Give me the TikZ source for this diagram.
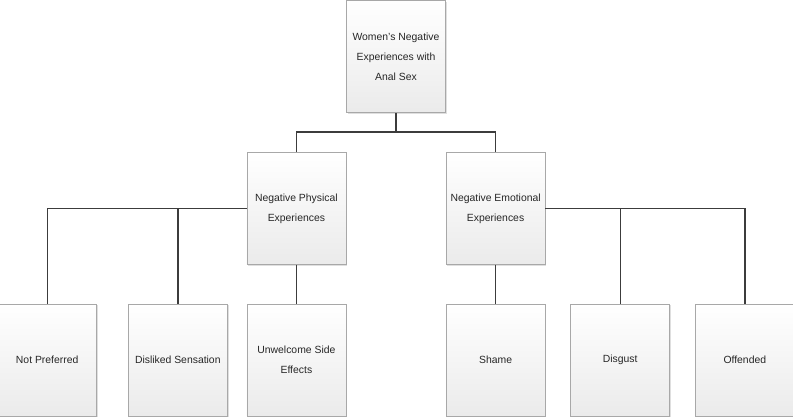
\documentclass[tikz,border=0pt]{standalone}
\usepackage{fontspec}
\setmainfont{Liberation Sans}
\usepackage{tikz}
\usetikzlibrary{positioning, shadows}
\definecolor{linkgray}{HTML}{3C3C3C}
\definecolor{boxedge}{HTML}{A8A8A8}

\begin{document}
\begin{tikzpicture}[
    x=1pt, y=-1pt,
    node distance=39pt,
    box/.style={draw=boxedge, line width=0.6pt, minimum width=99pt, minimum height=112pt, align=center,
        font=\fontsize{10.4}{20}\selectfont, text=black!85, top color=white, bottom color=gray!16,
        drop shadow={opacity=0.25, shadow xshift=1.2pt, shadow yshift=-1.2pt}},
    link/.style={draw=linkgray, line width=1.4pt}
]
\useasboundingbox (0,0) rectangle (793,419);

\node[box, anchor=north] (root) at (396,0.5) {Women's Negative\\Experiences with\\Anal Sex};
\node[box, below left=39pt and 0pt of root] (phys) {Negative Physical\\Experiences};
\node[box, below right=39pt and 0pt of root] (emo) {Negative Emotional\\Experiences};

\node[box, below=of phys] (sideeff) {Unwelcome Side\\Effects};
\node[box, left=19pt of sideeff] (disliked) {Disliked Sensation};
\node[box, left=31pt of disliked] (notpref) {Not Preferred};
\node[box, below=of emo] (shame) {Shame};
\node[box, right=25pt of shame] (disgust) {Disgust};
\node[box, right=25pt of disgust] (offended) {Offended};

\coordinate (rootjoin) at ([yshift=-19pt]root.south);
\draw[link] (root.south) -- (rootjoin);
\draw[link] (rootjoin) -| (phys.north);
\draw[link] (rootjoin) -| (emo.north);

\draw[link] (phys.west) -| (notpref.north);
\draw[link] (disliked.north) -- (disliked.north |- phys.west);
\draw[link] (phys.south) -- (sideeff.north);

\draw[link] (emo.east) -| (offended.north);
\draw[link] (disgust.north) -- (disgust.north |- emo.east);
\draw[link] (emo.south) -- (shame.north);
\end{tikzpicture}
\end{document}
